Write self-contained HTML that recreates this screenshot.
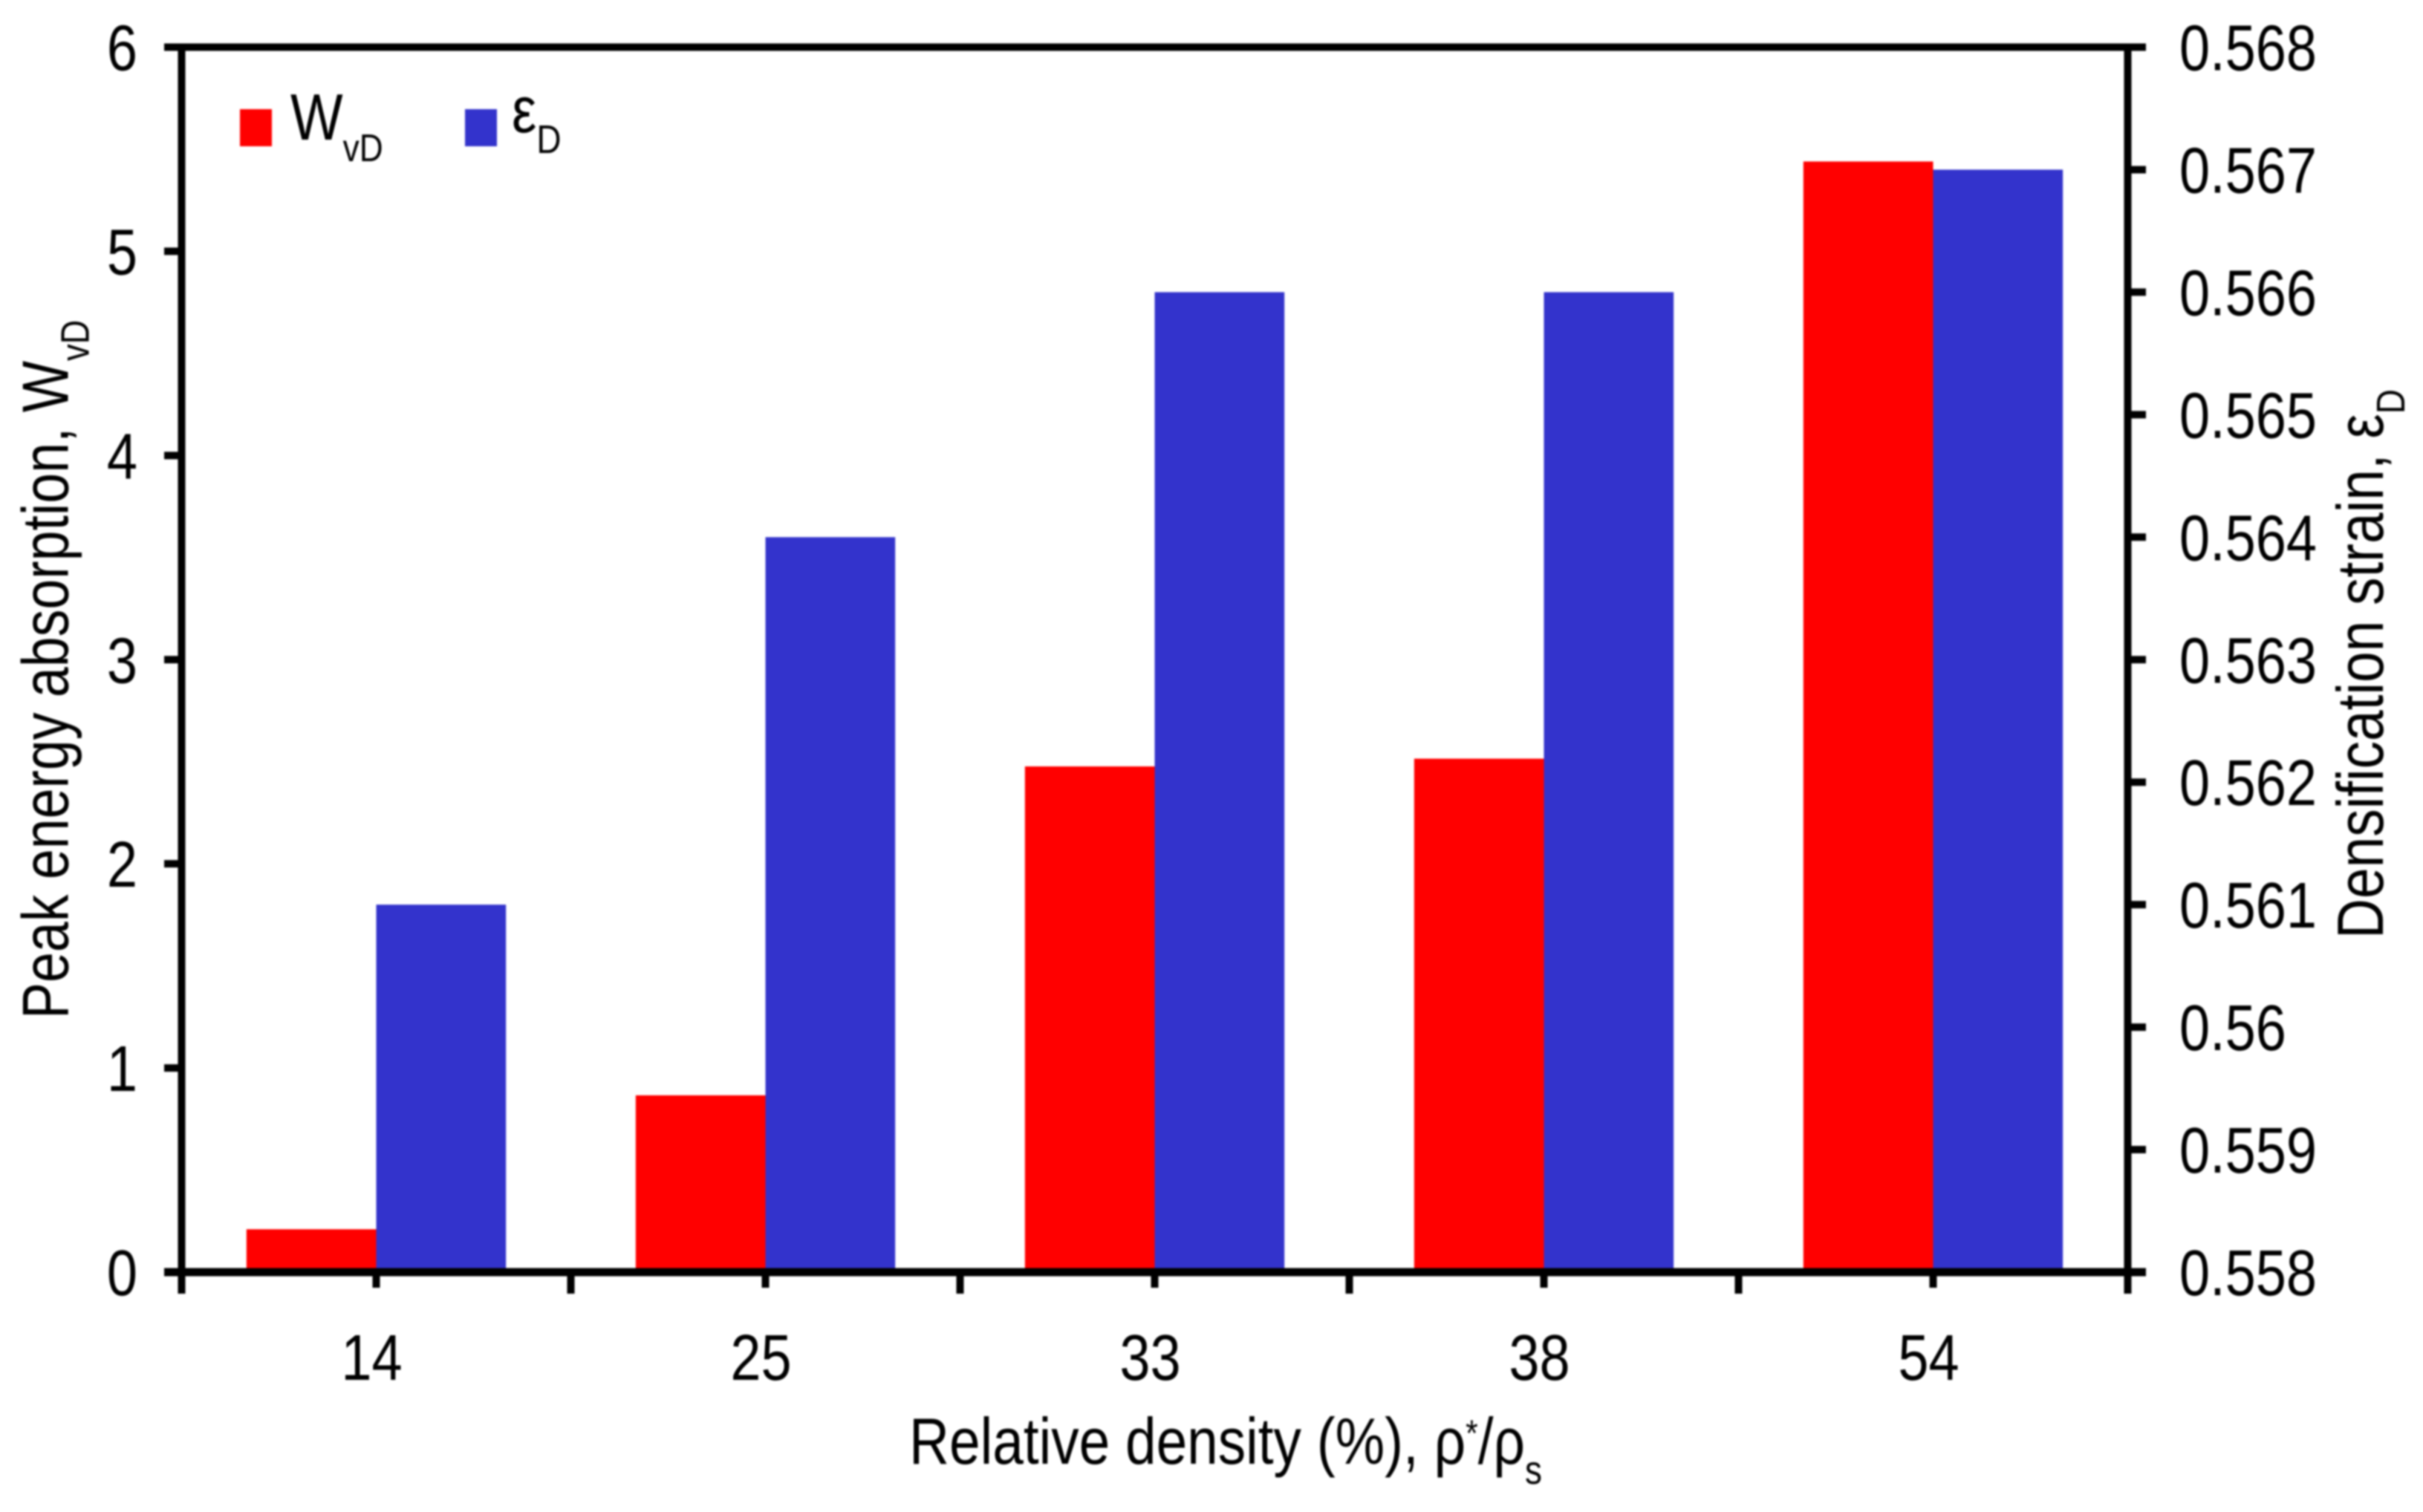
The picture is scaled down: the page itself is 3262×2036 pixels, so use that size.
<!DOCTYPE html>
<html lang="en">
<head>
<meta charset="utf-8">
<title>Peak energy absorption and densification strain vs relative density</title>
<style>
  html, body { margin: 0; padding: 0; background: #ffffff; }
  body { width: 3262px; height: 2036px; overflow: hidden; }
  svg { display: block; }
  text { font-family: "Liberation Sans", "DejaVu Sans", sans-serif; fill: #000000; }
</style>
</head>
<body>
<svg id="chart" xmlns="http://www.w3.org/2000/svg" width="3262" height="2036" viewBox="0 0 3262 2036">
  <defs>
    <filter id="soften" x="0" y="0" width="100%" height="100%" filterUnits="objectBoundingBox" color-interpolation-filters="sRGB">
      <feGaussianBlur stdDeviation="1.2"/>
    </filter>
  </defs>
  <rect x="0" y="0" width="3262" height="2036" fill="#ffffff"/>
  <g filter="url(#soften)">
    <rect x="0" y="0" width="3262" height="2036" fill="#ffffff"/>
    <g id="bars"></g>
    <g id="axes"></g>
    <g id="labels"></g>

    <g>
      <rect x="323" y="147" width="43" height="50" fill="#ff0000"/>
      <text transform="translate(391 188) scale(0.85 1)" font-size="88">W<tspan font-size="52" dy="29">vD</tspan></text>
      <rect x="626" y="147" width="43" height="50" fill="#3333cc"/>
      <text transform="translate(689 178) scale(0.85 1)" font-size="88">ε<tspan font-size="54" dy="28">D</tspan></text>
    </g>

    <text transform="translate(1224 1971) scale(0.85 1)" font-size="88">Relative density (%), ρ<tspan font-size="50" dy="-24">*</tspan><tspan dy="24">/ρ</tspan><tspan font-size="54" dy="27">s</tspan></text>
    <text transform="translate(91.7 1372) rotate(-90) scale(0.835 1)" font-size="88">Peak energy absorption, W<tspan font-size="54" dy="28">vD</tspan></text>
    <text transform="translate(3208 1264) rotate(-90) scale(0.85 1)" font-size="88">Densification strain, ε<tspan font-size="54" dy="29">D</tspan></text>
  </g>
</svg>

<script>
const categories = ['14', '25', '33', '38', '54'];
const energyValues = [0.21, 0.866, 2.477, 2.515, 5.44];
const strainValues = [0.561, 0.564, 0.566, 0.566, 0.567];
const leftTickLabels = ['0', '1', '2', '3', '4', '5', '6'];
const rightTickLabels = ['0.558', '0.559', '0.56', '0.561', '0.562', '0.563', '0.564', '0.565', '0.566', '0.567', '0.568'];

const NS = 'http://www.w3.org/2000/svg';
const plot = { left: 244.5, right: 2864.5, top: 63.5, bottom: 1713 };
const leftDomain = [0, 6];
const rightDomain = [0.558, 0.568];
const barsLayer = document.getElementById('bars');
const axesLayer = document.getElementById('axes');
const labelsLayer = document.getElementById('labels');
const catWidth = (plot.right - plot.left) / categories.length;
const barWidth = catWidth / 3;

function yLeft(v) {
  return plot.bottom - (v - leftDomain[0]) / (leftDomain[1] - leftDomain[0]) * (plot.bottom - plot.top);
}
function yRight(v) {
  return plot.bottom - (v - rightDomain[0]) / (rightDomain[1] - rightDomain[0]) * (plot.bottom - plot.top);
}
function xEdge(i) {
  return plot.left + i * catWidth;
}
function xCenter(i) {
  return plot.left + (i + 0.5) * catWidth;
}
function makeBar(x, y, fill) {
  const r = document.createElementNS(NS, 'rect');
  r.setAttribute('x', x);
  r.setAttribute('y', y);
  r.setAttribute('width', barWidth);
  r.setAttribute('height', plot.bottom - y);
  r.setAttribute('fill', fill);
  barsLayer.appendChild(r);
  return r;
}
function makeLine(x1, y1, x2, y2, w) {
  const l = document.createElementNS(NS, 'line');
  l.setAttribute('x1', x1);
  l.setAttribute('y1', y1);
  l.setAttribute('x2', x2);
  l.setAttribute('y2', y2);
  l.setAttribute('stroke', '#000000');
  l.setAttribute('stroke-width', w);
  axesLayer.appendChild(l);
  return l;
}
function makeLabel(str, x, y, anchor) {
  const t = document.createElementNS(NS, 'text');
  t.setAttribute('transform', 'translate(' + x + ' ' + y + ') scale(0.85 1)');
  t.setAttribute('font-size', '87');
  t.setAttribute('text-anchor', anchor);
  t.textContent = str;
  labelsLayer.appendChild(t);
  return t;
}

categories.forEach(function (cat, i) {
  const red = makeBar(xCenter(i) - barWidth, yLeft(energyValues[i]), '#ff0000');
  
  
  const blue = makeBar(xCenter(i), yRight(strainValues[i]), '#3333cc');
  
  
  const minor = makeLine(xCenter(i), plot.bottom, xCenter(i), 1734, 10);
  
  
  const label = makeLabel(cat, xCenter(i) - 6, 1858, 'middle');
  
  
});

for (let i = 1; i < categories.length; i++) {
  const major = makeLine(xEdge(i), plot.bottom, xEdge(i), 1742, 10);
  
  
}

leftTickLabels.forEach(function (str) {
  const y = yLeft(parseFloat(str));
  const tick = makeLine(221, y, plot.left, y, 10);
  
  
  const label = makeLabel(str, 185, y + 31, 'end');
  
  
});

rightTickLabels.forEach(function (str) {
  const y = yRight(parseFloat(str));
  const tick = makeLine(plot.right, y, 2889, y, 10);
  
  
  const label = makeLabel(str, 2934, y + 31, 'start');
  
  
});

const topLine = makeLine(221, plot.top, 2889, plot.top, 10);


const bottomLine = makeLine(221, plot.bottom, 2889, plot.bottom, 11);


const leftLine = makeLine(plot.left, plot.top, plot.left, 1742, 10);


const rightLine = makeLine(plot.right, plot.top, plot.right, 1742, 10);


</script>
</body>
</html>
